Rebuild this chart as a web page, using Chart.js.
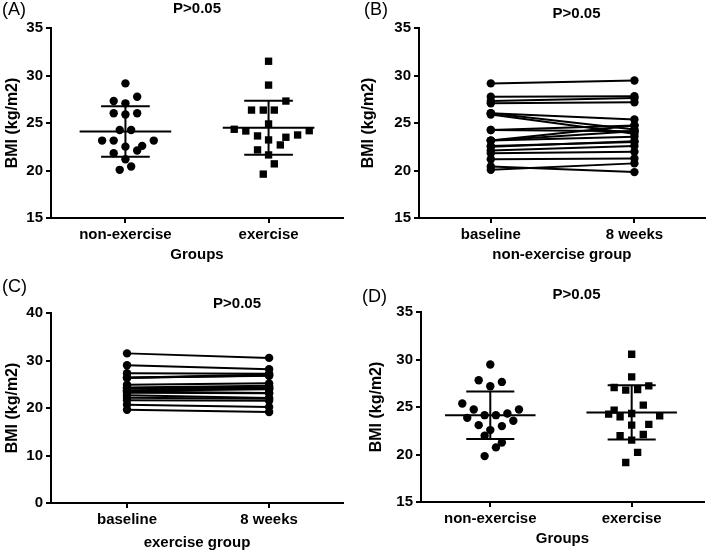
<!DOCTYPE html>
<html lang="en">
<head>
  <meta charset="UTF-8" />
  <title>BMI before and after</title>
  <script src="https://cdn.jsdelivr.net/npm/chart.js"></script>
  <style>
    body { margin: 0; background: #fff; }
    .wrap { position: relative; width: 709px; height: 553px; }
    .wrap canvas { position: absolute; }
  </style>
</head>
<body>
  <div class="wrap">
    <canvas id="chartA" width="354" height="276" style="left:0;top:0"></canvas>
    <canvas id="chartB" width="355" height="276" style="left:354px;top:0"></canvas>
    <canvas id="chartC" width="354" height="277" style="left:0;top:276px"></canvas>
    <canvas id="chartD" width="355" height="277" style="left:354px;top:276px"></canvas>
  </div>

  <script>
    const groupLabels = ['non-exercise', 'exercise'];
    const timeLabels = ['baseline', '8 weeks'];
    const pText = 'P>0.05';

    // non-exercise group, one entry per subject (baseline / 8 weeks)
    const nonExBaseline = [29.17, 27.76, 27.31, 27.07, 26.02, 26.02, 25.9, 24.27, 24.27, 23.15, 23.15, 23.15, 22.59, 22.51, 22.1, 21.82, 21.19, 20.42, 20.07];
    const nonExWeek8 = [29.47, 27.82, 27.64, 27.19, 25.37, 24.32, 23.86, 24.14, 24.74, 24.74, 23.55, 24.14, 22.99, 23.09, 22.57, 21.97, 21.27, 19.83, 20.75];
    // exercise group
    const exBaseline = [31.5, 28.99, 27.31, 26.36, 26.36, 26.36, 24.9, 24.34, 24.19, 24.16, 23.74, 23.64, 23.5, 23.22, 22.69, 22.17, 21.64, 20.7, 19.62];
    const exWeek8 = [30.55, 28.17, 27.22, 27.05, 26.84, 26.77, 25.19, 24.67, 24.32, 24.25, 24.07, 23.97, 23.17, 23.09, 22.11, 21.97, 21.52, 20.22, 19.16];

    // horizontal spread of the dots in the scatter panels (category units)
    const nonExBaselineJitter = [0, 0.082, -0.082, 0, -0.082, 0.082, 0, -0.04, 0.04, -0.163, -0.082, 0.198, 0.117, 0, 0.082, -0.082, 0, 0.04, -0.04];
    const nonExWeek8Jitter = [0, -0.082, 0.082, 0, -0.198, 0.121, -0.163, -0.04, -0.117, 0.203, 0.163, 0.04, 0.082, -0.082, 0, -0.04, 0.082, -0.04, 0.04];
    const exBaselineJitter = [0, 0, 0.121, -0.119, -0.037, 0.04, 0, -0.24, 0.284, -0.159, 0.203, -0.077, 0.121, 0, 0.082, -0.077, 0, 0.04, -0.037];
    const exWeek8Jitter = [0, 0, 0.121, -0.124, 0.042, -0.042, 0.082, -0.124, 0, -0.163, 0.198, -0.082, 0.121, 0, 0.082, -0.082, 0, 0.042, -0.042];

    // mean and SD bars as drawn (non-exercise, exercise)
    const meanA = [24.1, 24.5];
    const sdA = [2.66, 2.85];
    const meanD = [24.14, 24.43];
    const sdD = [2.5, 2.85];

    const FONT = '"Liberation Sans", Arial, sans-serif';
    const tickFont = { family: FONT, size: 15, weight: 'bold' };
    const xTitleFont = { family: FONT, size: 15, weight: 'bold' };
    const yTitleFont = { family: FONT, size: 16, weight: 'bold' };

    Chart.defaults.color = '#000';
    Chart.defaults.animation = false;

    const panelText = {
      id: 'panelText',
      afterDraw(chart, args, o) {
        const ctx = chart.ctx;
        ctx.save();
        ctx.fillStyle = '#000';
        ctx.textBaseline = 'alphabetic';
        ctx.textAlign = 'left';
        ctx.font = '18px ' + FONT;
        ctx.fillText(o.tag, o.tagX, o.tagY);
        ctx.textAlign = 'center';
        ctx.font = 'bold 15px ' + FONT;
        ctx.fillText(pText, o.pX, o.pY);
        ctx.restore();
      }
    };

    const axisGrid = { display: true, drawOnChartArea: false, drawTicks: true, tickLength: 5, lineWidth: 2, color: '#000' };
    const axisBorder = { display: true, color: '#000', width: 2 };

    function buildOptions(p) {
      return {
        responsive: false,
        animation: false,
        layout: { padding: { top: p.top, right: p.right, left: 0, bottom: 0 } },
        plugins: {
          legend: { display: false },
          tooltip: { enabled: false },
          panelText: p.text
        },
        scales: {
          x: {
            type: 'linear', min: p.xMin, max: p.xMax,
            afterBuildTicks: s => { s.ticks = p.cats.map((_, i) => ({ value: i })); },
            afterFit: s => { s.height = p.xHeight; },
            ticks: { callback: v => p.cats[v], font: tickFont, color: '#000', padding: 3, autoSkip: false, maxRotation: 0 },
            grid: axisGrid, border: axisBorder,
            title: { display: true, text: p.xTitle, font: xTitleFont, color: '#000', padding: { top: 0, bottom: p.xTitlePad } }
          },
          y: {
            min: p.yMin, max: p.yMax,
            afterFit: s => { s.width = p.yWidth; },
            ticks: { stepSize: p.yStep, font: tickFont, color: '#000', padding: 3 },
            grid: axisGrid, border: axisBorder,
            title: { display: true, text: 'BMI (kg/m2)', font: yTitleFont, color: '#000', padding: { top: p.yTitlePad, bottom: 0 } }
          }
        }
      };
    }

    function seg(x1, y1, x2, y2) {
      return { data: [{ x: x1, y: y1 }, { x: x2, y: y2 }], showLine: true, borderColor: '#000', borderWidth: 2, pointRadius: 0 };
    }

    function scatterDatasets(groups, means, sds) {
      const sets = [];
      groups.forEach((grp, g) => {
        sets.push({
          data: grp.values.map((v, i) => ({ x: g + grp.jitter[i], y: v })),
          pointStyle: grp.style, pointRadius: grp.style === 'rect' ? 5.2 : 4.2,
          backgroundColor: '#000', borderColor: '#000', borderWidth: 0, showLine: false
        });
        const m = means[g], s = sds[g];
        sets.push(seg(g - 0.32, m, g + 0.32, m));
        sets.push(seg(g - 0.17, m + s, g + 0.17, m + s));
        sets.push(seg(g - 0.17, m - s, g + 0.17, m - s));
        sets.push(seg(g, m - s, g, m + s));
      });
      return sets;
    }

    function pairedDatasets(before, after) {
      return before.map((b, i) => ({
        data: [{ x: 0, y: b }, { x: 1, y: after[i] }],
        showLine: true, borderColor: '#000', borderWidth: 2,
        pointRadius: 4.2, pointBackgroundColor: '#000', pointBorderWidth: 0
      }));
    }

    // (A) baseline, between groups
    new Chart(document.getElementById('chartA'), {
      type: 'scatter',
      data: {
        datasets: scatterDatasets([
          { values: nonExBaseline, jitter: nonExBaselineJitter, style: 'circle' },
          { values: exBaseline, jitter: exBaselineJitter, style: 'rect' }
        ], meanA, sdA)
      },
      options: buildOptions({
        top: 28, right: 11, xHeight: 58, yWidth: 51, xMin: -0.52, xMax: 1.52,
        yMin: 15, yMax: 35, yStep: 5, cats: groupLabels, xTitle: 'Groups',
        xTitlePad: 12, yTitlePad: 3,
        text: { tag: '(A)', tagX: 2, tagY: 14.5, pX: 197, pY: 13.3 }
      }),
      plugins: [panelText]
    });

    // (B) non-exercise group, paired
    new Chart(document.getElementById('chartB'), {
      type: 'scatter',
      data: { datasets: pairedDatasets(nonExBaseline, nonExWeek8) },
      options: buildOptions({
        top: 28, right: 3, xHeight: 58, yWidth: 65, xMin: -0.5, xMax: 1.49,
        yMin: 15, yMax: 35, yStep: 5, cats: timeLabels, xTitle: 'non-exercise group',
        xTitlePad: 12, yTitlePad: 4.5,
        text: { tag: '(B)', tagX: 10, tagY: 14.5, pX: 222.5, pY: 18.3 }
      }),
      plugins: [panelText]
    });

    // (C) exercise group, paired
    new Chart(document.getElementById('chartC'), {
      type: 'scatter',
      data: { datasets: pairedDatasets(exBaseline, exWeek8) },
      options: buildOptions({
        top: 37, right: 11, xHeight: 50, yWidth: 51, xMin: -0.535, xMax: 1.52,
        yMin: 0, yMax: 40, yStep: 10, cats: timeLabels, xTitle: 'exercise group',
        xTitlePad: 1.5, yTitlePad: 3,
        text: { tag: '(C)', tagX: 2, tagY: 16.2, pX: 237, pY: 31.7 }
      }),
      plugins: [panelText]
    });

    // (D) 8 weeks, between groups
    new Chart(document.getElementById('chartD'), {
      type: 'scatter',
      data: {
        datasets: scatterDatasets([
          { values: nonExWeek8, jitter: nonExWeek8Jitter, style: 'circle' },
          { values: exWeek8, jitter: exWeek8Jitter, style: 'rect' }
        ], meanD, sdD)
      },
      options: buildOptions({
        top: 36, right: 2, xHeight: 51, yWidth: 67, xMin: -0.49, xMax: 1.51,
        yMin: 15, yMax: 35, yStep: 5, cats: groupLabels, xTitle: 'Groups',
        xTitlePad: 5, yTitlePad: 13,
        text: { tag: '(D)', tagX: 8, tagY: 26, pX: 222.5, pY: 23.3 }
      }),
      plugins: [panelText]
    });
  </script>
</body>
</html>
